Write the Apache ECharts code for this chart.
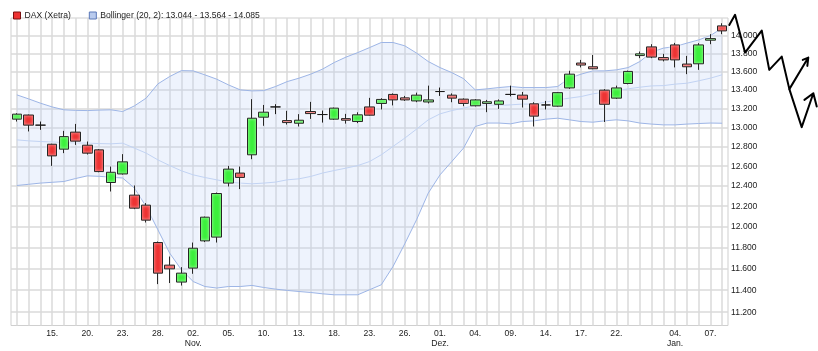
<!DOCTYPE html>
<html>
<head>
<meta charset="utf-8">
<title>DAX (Xetra)</title>
<script src="https://cdn.jsdelivr.net/npm/echarts@6/dist/echarts.min.js"></script>
<style>
  html, body { margin: 0; padding: 0; background: #fff; }
  #chart { width: 818px; height: 351px; }
</style>
</head>
<body>
<div id="chart"></div>
<script>
// Xetra trading days
var days = [
  '2020-10-12', '2020-10-13', '2020-10-14', '2020-10-15', '2020-10-16',
  '2020-10-19', '2020-10-20', '2020-10-21', '2020-10-22', '2020-10-23',
  '2020-10-26', '2020-10-27', '2020-10-28', '2020-10-29', '2020-10-30',
  '2020-11-02', '2020-11-03', '2020-11-04', '2020-11-05', '2020-11-06',
  '2020-11-09', '2020-11-10', '2020-11-11', '2020-11-12', '2020-11-13',
  '2020-11-16', '2020-11-17', '2020-11-18', '2020-11-19', '2020-11-20',
  '2020-11-23', '2020-11-24', '2020-11-25', '2020-11-26', '2020-11-27',
  '2020-11-30', '2020-12-01', '2020-12-02', '2020-12-03', '2020-12-04',
  '2020-12-07', '2020-12-08', '2020-12-09', '2020-12-10', '2020-12-11',
  '2020-12-14', '2020-12-15', '2020-12-16', '2020-12-17', '2020-12-18',
  '2020-12-21', '2020-12-22', '2020-12-23', '2020-12-28', '2020-12-29',
  '2020-12-30', '2021-01-04', '2021-01-05', '2021-01-06', '2021-01-07',
  '2021-01-08'
]

var open = [
  13087, 13131, 13024, 12825, 12774, 12951, 12815, 12767, 12435, 12521,
  12309, 12210, 11847, 11633, 11475, 11605, 11863, 11899, 12429, 12530,
  12716, 13108, 13217, 13072, 13044, 13168, 13136, 13087, 13093, 13062,
  13217, 13254, 13351, 13314, 13281, 13270, 13382, 13343, 13300, 13229,
  13254, 13245, 13351, 13343, 13250, 13238, 13225, 13421, 13693, 13652,
  13397, 13311, 13469, 13776, 13873, 13754, 13895, 13682, 13685, 13948,
  14110
]
var close = [
  13140, 13024, 13024, 12705, 12904, 12857, 12733, 12545, 12538, 12644,
  12180, 12063, 11558, 11598, 11558, 11793, 12092, 12325, 12570, 12486,
  13097, 13161, 13217, 13051, 13076, 13146, 13136, 13204, 13076, 13133,
  13129, 13297, 13292, 13292, 13343, 13292, 13382, 13311, 13254, 13292,
  13272, 13281, 13351, 13300, 13119, 13238, 13370, 13571, 13671, 13630,
  13245, 13421, 13601, 13795, 13759, 13728, 13728, 13652, 13895, 13966,
  14053
]
var low = [
  13062, 12958, 12975, 12603, 12733, 12818, 12719, 12538, 12345, 12515,
  12170, 12040, 11456, 11466, 11443, 11552, 11851, 11847, 12395, 12369,
  12671, 13017, 13140, 13030, 13010, 13090, 13051, 13080, 13040, 13045,
  13125, 13190, 13233, 13281, 13267, 13254, 13335, 13267, 13225, 13222,
  13161, 13196, 13330, 13211, 13010, 13190, 13220, 13411, 13645, 13625,
  13057, 13303, 13460, 13747, 13747, 13711, 13645, 13571, 13618, 13903,
  14016
]
var high = [
  13150, 13136, 13062, 12830, 12964, 13037, 12853, 12775, 12596, 12723,
  12405, 12230, 11857, 11714, 11614, 11847, 12098, 12335, 12603, 12596,
  13300, 13238, 13246, 13175, 13140, 13271, 13178, 13210, 13143, 13160,
  13314, 13310, 13362, 13335, 13370, 13446, 13425, 13362, 13308, 13300,
  13292, 13297, 13446, 13377, 13267, 13281, 13375, 13608, 13728, 13783,
  13408, 13446, 13610, 13821, 13903, 13795, 13918, 13772, 13915, 14016,
  14140
]

// Bollinger (20, 2)
var upper = [
  13346, 13303, 13257, 13217, 13186, 13180, 13178, 13183, 13186, 13168,
  13228, 13311, 13465, 13545, 13610, 13607, 13563, 13516, 13454, 13400,
  13389, 13392, 13436, 13490, 13527, 13571, 13626, 13699, 13759, 13809,
  13865, 13922, 13922, 13885, 13804, 13710, 13643, 13588, 13522, 13400,
  13411, 13425, 13436, 13425, 13425, 13425, 13436, 13527, 13571, 13607,
  13607, 13618, 13643, 13710, 13814, 13859, 13877, 13915, 13951, 14000,
  14085
]
var middle = [
  12870, 12860, 12853, 12848, 12842, 12839, 12836, 12832, 12829, 12836,
  12785, 12733, 12664, 12606, 12553, 12512, 12485, 12462, 12439, 12429,
  12422, 12429, 12439, 12462, 12472, 12496, 12530, 12556, 12580, 12606,
  12647, 12716, 12802, 12888, 12982, 13080, 13143, 13178, 13204, 13232,
  13239, 13232, 13239, 13247, 13247, 13268, 13292, 13311, 13328, 13357,
  13375, 13392, 13411, 13429, 13443, 13446, 13462, 13472, 13498, 13527,
  13564
]
var lower = [
  12405, 12417, 12429, 12437, 12445, 12475, 12502, 12497, 12489, 12480,
  12379, 12195, 11969, 11746, 11589, 11480, 11434, 11420, 11434, 11434,
  11444, 11425, 11410, 11398, 11388, 11379, 11367, 11358, 11358, 11358,
  11404, 11450, 11620, 11835, 12066, 12329, 12512, 12647, 12785, 13010,
  13046, 13046, 13038, 13062, 13069, 13087, 13097, 13080, 13062, 13055,
  13069, 13080, 13069, 13046, 13035, 13027, 13027, 13035, 13041, 13046,
  13044
]

var tickDays = [
  '2020-10-15', '2020-10-20', '2020-10-23', '2020-10-28', '2020-11-02',
  '2020-11-05', '2020-11-10', '2020-11-13', '2020-11-18', '2020-11-23',
  '2020-11-26', '2020-12-01', '2020-12-04', '2020-12-09', '2020-12-14',
  '2020-12-17', '2020-12-22', '2021-01-04', '2021-01-07'
]
var tickTexts = [
  '15.', '20.', '23.', '28.', '02.\nNov.',
  '05.', '10.', '13.', '18.', '23.',
  '26.', '01.\nDez.', '04.', '09.', '14.',
  '17.', '22.', '04.\nJan.', '07.'
]
var yTicks = [11200, 11400, 11600, 11800, 12000, 12200, 12400, 12600, 12800,
  13000, 13200, 13400, 13600, 13800, 14000]

// hand drawn scenario on the right: [day index, level]
var sketchA = [
  [60.61, 14121], [61.10, 14236], [61.95, 13809], [63.37, 14057], [64.01, 13618],
  [65.07, 13765], [65.72, 13408], [67.33, 13754], [66.86, 13728], [67.33, 13754],
  [67.25, 13662]
]
var sketchB = [
  [65.72, 13408], [66.77, 13003], [67.76, 13364], [67.00, 13292], [67.76, 13364],
  [68.05, 13221]
]

var font = '"Liberation Sans", Arial, sans-serif'
var gridColor = '#dadada'

function fmt (v) {
  return String(Math.round(v)).replace(/\B(?=(\d{3})+(?!\d))/g, '.')
}

var candles = days.map(function (d, i) {
  return [open[i], close[i], low[i], high[i]]
})
var bandWidth = upper.map(function (v, i) {
  return v - lower[i]
})
var last = days.length - 1
var bollName = 'Bollinger (20, 2): ' + fmt(lower[last]) + ' - ' + fmt(middle[last]) + ' - ' + fmt(upper[last])

var chart = echarts.init(document.getElementById('chart'))

var option = {
  animation: false,
  backgroundColor: '#fff',
  textStyle: { fontFamily: font },
  legend: {
    left: 8,
    top: 6,
    icon: 'rect',
    itemWidth: 7,
    itemHeight: 7,
    itemGap: 18,
    selectedMode: false,
    textStyle: { fontSize: 8.6, color: '#1e1e1e', fontFamily: font, padding: [0, 0, 0, -1] },
    data: [
      { name: 'DAX (Xetra)', itemStyle: { color: '#ee3333', borderColor: '#7a1010', borderWidth: 1 } },
      { name: bollName, itemStyle: { color: '#b9cbee', borderColor: '#5a78b8', borderWidth: 1 } }
    ]
  },
  grid: [
    {
      left: 11,
      right: 90,
      top: 18,
      bottom: 25.5,
      show: true,
      borderColor: '#cfcfcf',
      borderWidth: 1
    },
    {
      left: 728,
      right: 0,
      top: 18,
      bottom: 25.5
    }
  ],
  xAxis: [
    {
      type: 'category',
      data: days,
      boundaryGap: true,
      axisLine: { show: false },
      axisTick: { show: false },
      axisLabel: {
        interval: function (index, value) {
          return tickDays.indexOf(value) >= 0
        },
        formatter: function (value) {
          var k = tickDays.indexOf(value)
          return k >= 0 ? tickTexts[k] : ''
        },
        fontSize: 8.6,
        lineHeight: 10,
        color: '#222',
        margin: 3
      },
      splitLine: {
        show: true,
        interval: 0,
        alignWithLabel: true,
        lineStyle: { color: gridColor, width: 1.5 }
      }
    },
    {
      type: 'value',
      gridIndex: 1,
      min: 60.5,
      max: 68.157,
      show: false
    }
  ],
  yAxis: [
    {
      type: 'log',
      logBase: 10,
      min: 11080,
      max: 14200,
      position: 'right',
      axisLine: { show: false },
      axisTick: { show: false, customValues: yTicks },
      axisLabel: {
        customValues: yTicks,
        formatter: function (v) { return fmt(v) },
        fontSize: 8.6,
        color: '#222',
        margin: 3
      },
      splitLine: {
        show: true,
        lineStyle: { color: gridColor, width: 1.5 }
      }
    },
    {
      type: 'log',
      logBase: 10,
      gridIndex: 1,
      min: 11080,
      max: 14200,
      show: false
    }
  ],
  series: [
    {
      name: bollName,
      type: 'line',
      data: lower,
      stack: 'bb',
      showSymbol: false,
      silent: true,
      z: 1,
      lineStyle: { color: '#9db5e6', width: 1 }
    },
    {
      name: bollName,
      type: 'line',
      data: bandWidth,
      stack: 'bb',
      showSymbol: false,
      silent: true,
      z: 1,
      lineStyle: { color: '#9db5e6', width: 1 },
      areaStyle: { color: 'rgba(184, 205, 246, 0.35)' }
    },
    {
      name: bollName,
      type: 'line',
      data: middle,
      showSymbol: false,
      silent: true,
      z: 1,
      lineStyle: { color: '#c2d3f3', width: 1 }
    },
    {
      name: 'DAX (Xetra)',
      type: 'candlestick',
      data: candles,
      barWidth: 10,
      z: 3,
      itemStyle: {
        color: '#3cf03c',
        color0: '#ee3333',
        borderColor: '#262626',
        borderColor0: '#262626',
        borderColorDoji: '#1a1a1a',
        borderWidth: 1,
        shadowBlur: 3,
        shadowColor: 'rgba(255,255,255,1)'
      }
    },
    {
      type: 'line',
      xAxisIndex: 1,
      yAxisIndex: 1,
      data: sketchA,
      showSymbol: false,
      clip: false,
      silent: true,
      z: 5,
      lineStyle: { color: '#000', width: 2, join: 'round', cap: 'round' }
    },
    {
      type: 'line',
      xAxisIndex: 1,
      yAxisIndex: 1,
      data: sketchB,
      showSymbol: false,
      clip: false,
      silent: true,
      z: 5,
      lineStyle: { color: '#000', width: 2, join: 'round', cap: 'round' }
    }
  ]
}

chart.setOption(option)
</script>
</body>
</html>
